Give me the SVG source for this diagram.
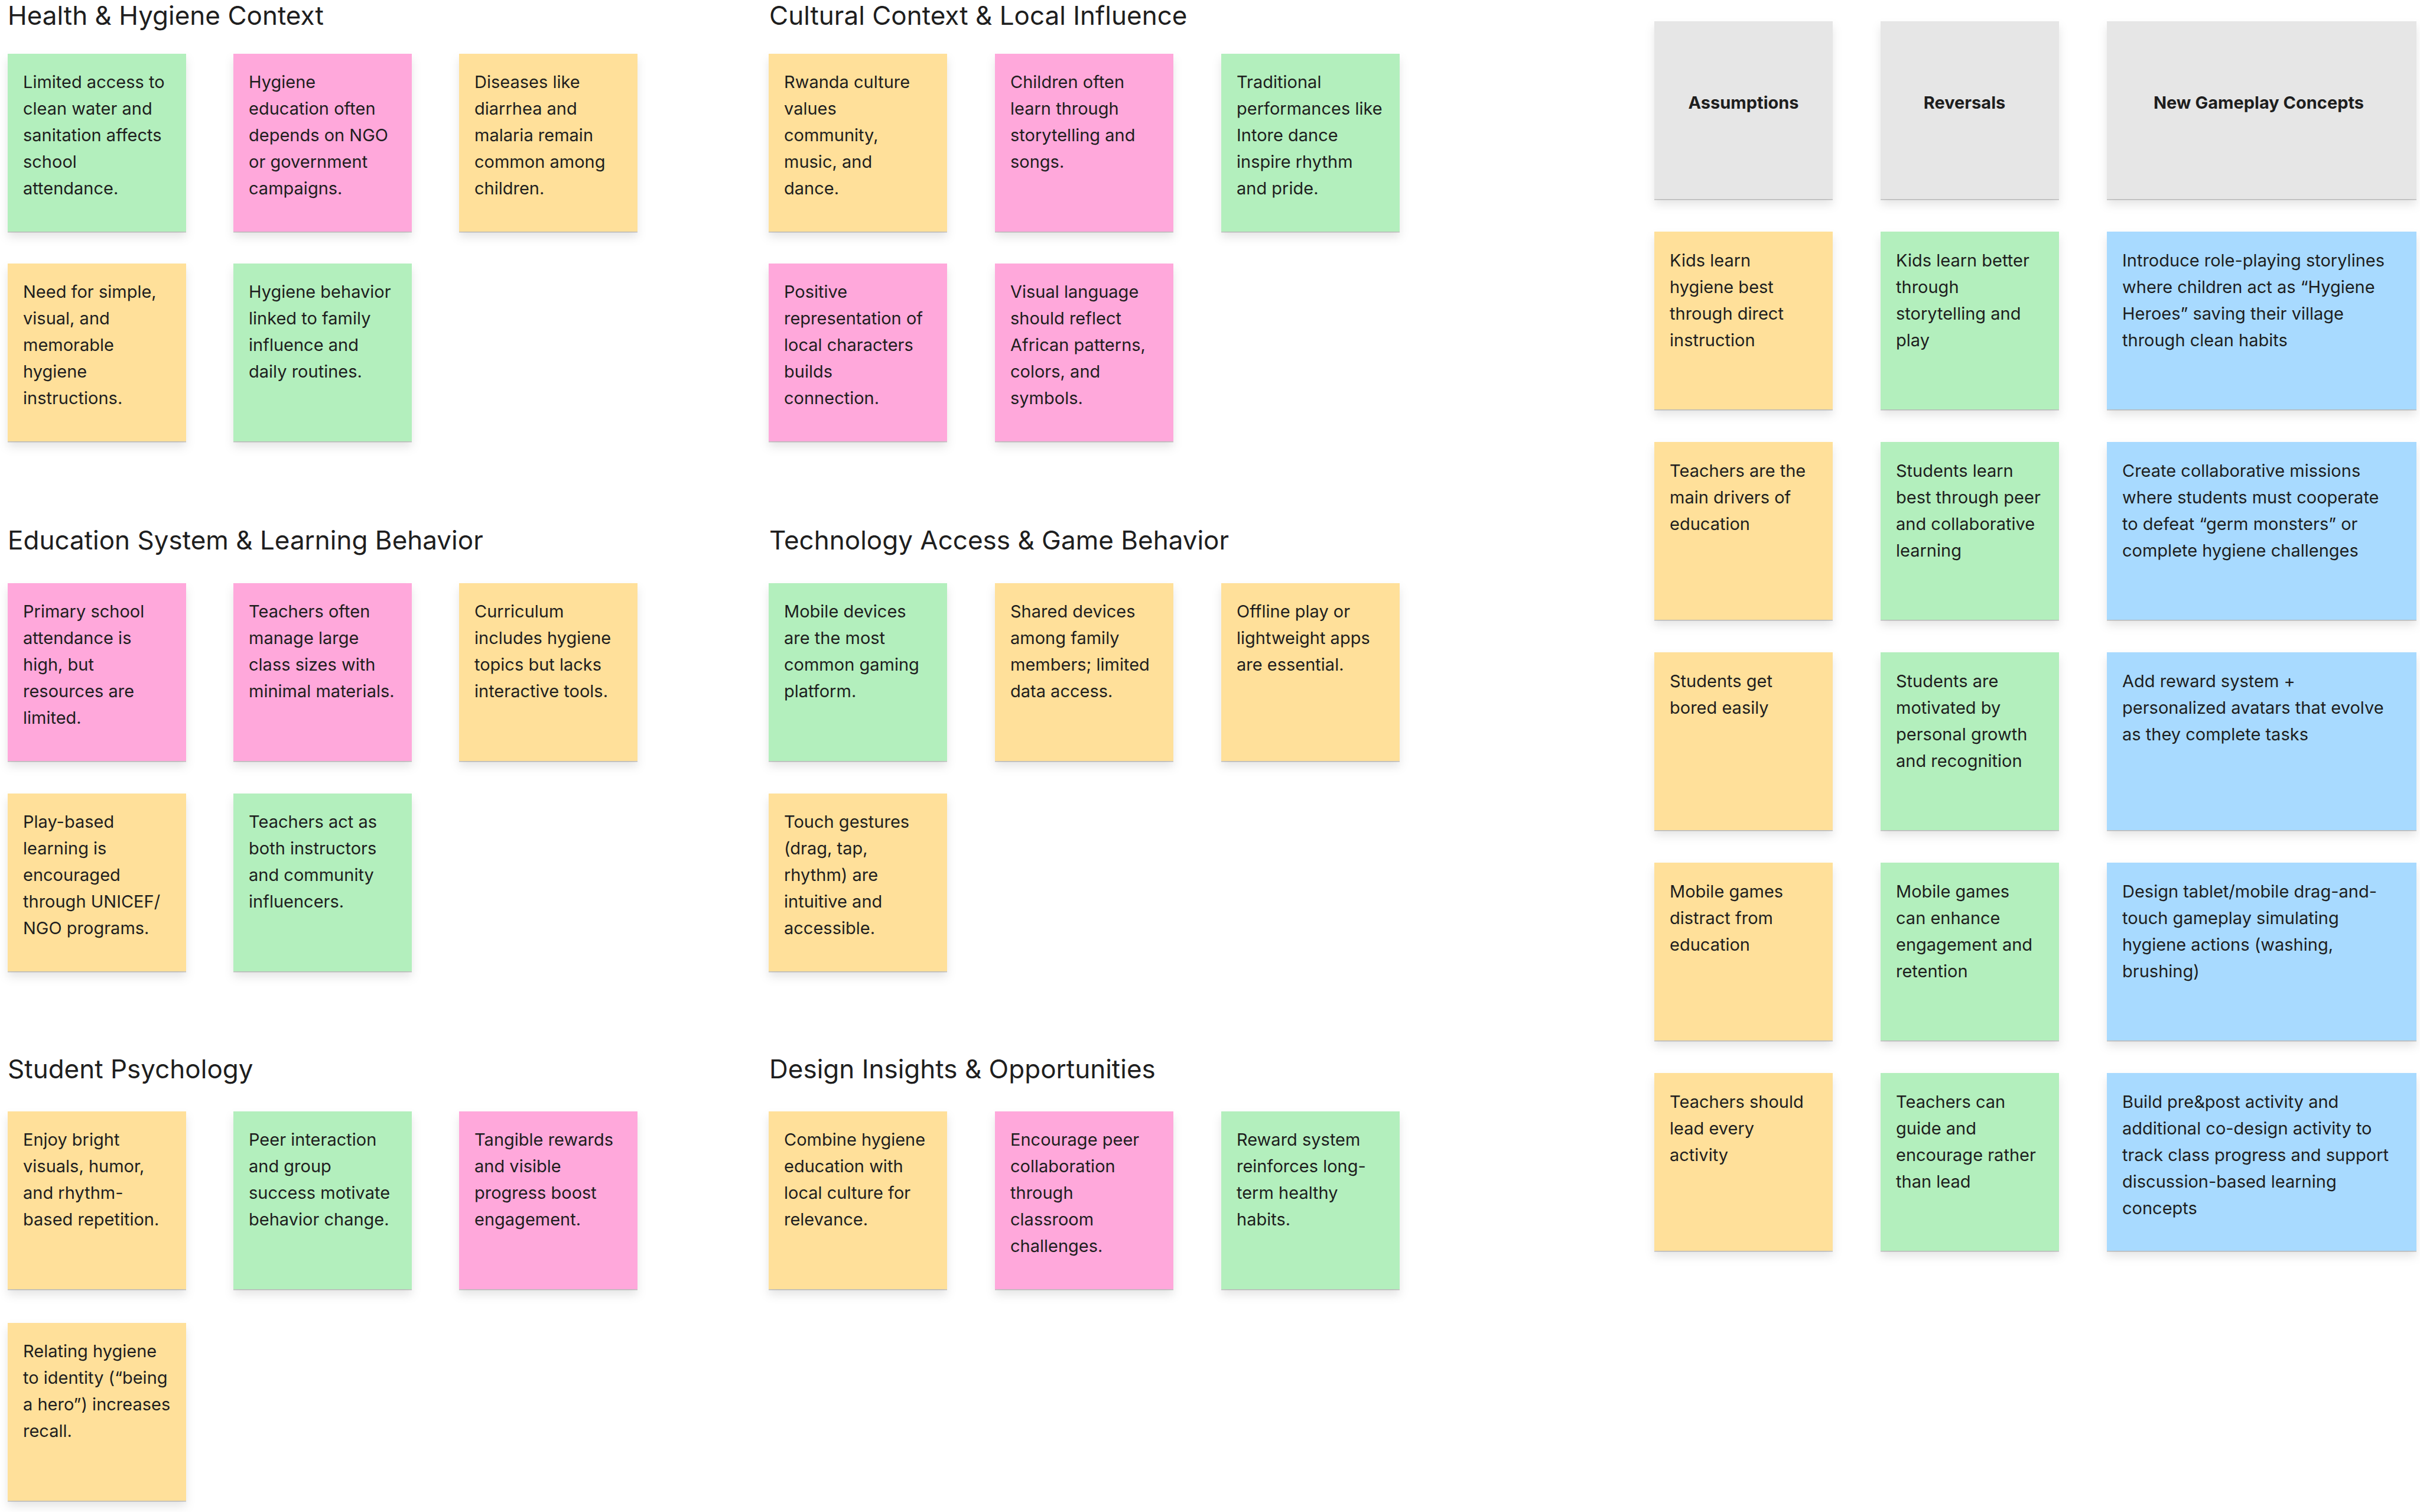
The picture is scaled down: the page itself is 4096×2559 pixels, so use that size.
<svg xmlns="http://www.w3.org/2000/svg" width="4096" height="2559" viewBox="0 0 4096 2559">
<defs>
<filter id="sh" x="-10%" y="-10%" width="120%" height="125%">
<feDropShadow dx="0" dy="1.5" stdDeviation="0.6" flood-color="#000" flood-opacity="0.22"/>
<feDropShadow dx="0" dy="9" stdDeviation="8" flood-color="#000" flood-opacity="0.10"/>
</filter>
<style>
.t{font-family:Inter,"Noto Sans","Liberation Sans",sans-serif;fill:#1e1e1e}
.title{font-size:44px}
.st{font-size:29px}
.hd{font-size:29px;font-weight:700;text-anchor:middle}
.y{fill:#FFE09A}
.g{fill:#B3EFBD}
.p{fill:#FFA8DB}
.b{fill:#A8DAFF}
.gr{fill:#E6E6E6}
.note{filter:url(#sh)}
</style>
</defs>
<rect width="4096" height="2559" fill="#fff"/>

<g id="titles">
<text class="t title" x="13" y="42">Health &amp; Hygiene Context</text>
<text class="t title" x="1302" y="42">Cultural Context &amp; Local Influence</text>
<text class="t title" x="13" y="930">Education System &amp; Learning Behavior</text>
<text class="t title" x="1302" y="930">Technology Access &amp; Game Behavior</text>
<text class="t title" x="13" y="1825">Student Psychology</text>
<text class="t title" x="1302" y="1825">Design Insights &amp; Opportunities</text>
</g>

<!-- Health & Hygiene Context -->
<g id="h1"><rect class="note g" x="13" y="91" width="302" height="301"/><text class="t st" x="39" y="149"><tspan x="39">Limited access to</tspan><tspan x="39" dy="45">clean water and</tspan><tspan x="39" dy="45">sanitation affects</tspan><tspan x="39" dy="45">school</tspan><tspan x="39" dy="45">attendance.</tspan></text></g>
<g id="h2"><rect class="note p" x="395" y="91" width="302" height="301"/><text class="t st" x="421" y="149"><tspan x="421">Hygiene</tspan><tspan x="421" dy="45">education often</tspan><tspan x="421" dy="45">depends on NGO</tspan><tspan x="421" dy="45">or government</tspan><tspan x="421" dy="45">campaigns.</tspan></text></g>
<g id="h3"><rect class="note y" x="777" y="91" width="302" height="301"/><text class="t st" x="803" y="149"><tspan x="803">Diseases like</tspan><tspan x="803" dy="45">diarrhea and</tspan><tspan x="803" dy="45">malaria remain</tspan><tspan x="803" dy="45">common among</tspan><tspan x="803" dy="45">children.</tspan></text></g>
<g id="h4"><rect class="note y" x="13" y="446" width="302" height="301"/><text class="t st" x="39" y="504"><tspan x="39">Need for simple,</tspan><tspan x="39" dy="45">visual, and</tspan><tspan x="39" dy="45">memorable</tspan><tspan x="39" dy="45">hygiene</tspan><tspan x="39" dy="45">instructions.</tspan></text></g>
<g id="h5"><rect class="note g" x="395" y="446" width="302" height="301"/><text class="t st" x="421" y="504"><tspan x="421">Hygiene behavior</tspan><tspan x="421" dy="45">linked to family</tspan><tspan x="421" dy="45">influence and</tspan><tspan x="421" dy="45">daily routines.</tspan></text></g>

<!-- Cultural Context -->
<g id="c1"><rect class="note y" x="1301" y="91" width="302" height="301"/><text class="t st" x="1327" y="149"><tspan x="1327">Rwanda culture</tspan><tspan x="1327" dy="45">values</tspan><tspan x="1327" dy="45">community,</tspan><tspan x="1327" dy="45">music, and</tspan><tspan x="1327" dy="45">dance.</tspan></text></g>
<g id="c2"><rect class="note p" x="1684" y="91" width="302" height="301"/><text class="t st" x="1710" y="149"><tspan x="1710">Children often</tspan><tspan x="1710" dy="45">learn through</tspan><tspan x="1710" dy="45">storytelling and</tspan><tspan x="1710" dy="45">songs.</tspan></text></g>
<g id="c3"><rect class="note g" x="2067" y="91" width="302" height="301"/><text class="t st" x="2093" y="149"><tspan x="2093">Traditional</tspan><tspan x="2093" dy="45">performances like</tspan><tspan x="2093" dy="45">Intore dance</tspan><tspan x="2093" dy="45">inspire rhythm</tspan><tspan x="2093" dy="45">and pride.</tspan></text></g>
<g id="c4"><rect class="note p" x="1301" y="446" width="302" height="301"/><text class="t st" x="1327" y="504"><tspan x="1327">Positive</tspan><tspan x="1327" dy="45">representation of</tspan><tspan x="1327" dy="45">local characters</tspan><tspan x="1327" dy="45">builds</tspan><tspan x="1327" dy="45">connection.</tspan></text></g>
<g id="c5"><rect class="note p" x="1684" y="446" width="302" height="301"/><text class="t st" x="1710" y="504"><tspan x="1710">Visual language</tspan><tspan x="1710" dy="45">should reflect</tspan><tspan x="1710" dy="45">African patterns,</tspan><tspan x="1710" dy="45">colors, and</tspan><tspan x="1710" dy="45">symbols.</tspan></text></g>

<!-- Education System -->
<g id="e1"><rect class="note p" x="13" y="987" width="302" height="301"/><text class="t st" x="39" y="1045"><tspan x="39">Primary school</tspan><tspan x="39" dy="45">attendance is</tspan><tspan x="39" dy="45">high, but</tspan><tspan x="39" dy="45">resources are</tspan><tspan x="39" dy="45">limited.</tspan></text></g>
<g id="e2"><rect class="note p" x="395" y="987" width="302" height="301"/><text class="t st" x="421" y="1045"><tspan x="421">Teachers often</tspan><tspan x="421" dy="45">manage large</tspan><tspan x="421" dy="45">class sizes with</tspan><tspan x="421" dy="45">minimal materials.</tspan></text></g>
<g id="e3"><rect class="note y" x="777" y="987" width="302" height="301"/><text class="t st" x="803" y="1045"><tspan x="803">Curriculum</tspan><tspan x="803" dy="45">includes hygiene</tspan><tspan x="803" dy="45">topics but lacks</tspan><tspan x="803" dy="45">interactive tools.</tspan></text></g>
<g id="e4"><rect class="note y" x="13" y="1343" width="302" height="301"/><text class="t st" x="39" y="1401"><tspan x="39">Play-based</tspan><tspan x="39" dy="45">learning is</tspan><tspan x="39" dy="45">encouraged</tspan><tspan x="39" dy="45">through UNICEF/</tspan><tspan x="39" dy="45">NGO programs.</tspan></text></g>
<g id="e5"><rect class="note g" x="395" y="1343" width="302" height="301"/><text class="t st" x="421" y="1401"><tspan x="421">Teachers act as</tspan><tspan x="421" dy="45">both instructors</tspan><tspan x="421" dy="45">and community</tspan><tspan x="421" dy="45">influencers.</tspan></text></g>

<!-- Technology Access -->
<g id="t1"><rect class="note g" x="1301" y="987" width="302" height="301"/><text class="t st" x="1327" y="1045"><tspan x="1327">Mobile devices</tspan><tspan x="1327" dy="45">are the most</tspan><tspan x="1327" dy="45">common gaming</tspan><tspan x="1327" dy="45">platform.</tspan></text></g>
<g id="t2"><rect class="note y" x="1684" y="987" width="302" height="301"/><text class="t st" x="1710" y="1045"><tspan x="1710">Shared devices</tspan><tspan x="1710" dy="45">among family</tspan><tspan x="1710" dy="45">members; limited</tspan><tspan x="1710" dy="45">data access.</tspan></text></g>
<g id="t3"><rect class="note y" x="2067" y="987" width="302" height="301"/><text class="t st" x="2093" y="1045"><tspan x="2093">Offline play or</tspan><tspan x="2093" dy="45">lightweight apps</tspan><tspan x="2093" dy="45">are essential.</tspan></text></g>
<g id="t4"><rect class="note y" x="1301" y="1343" width="302" height="301"/><text class="t st" x="1327" y="1401"><tspan x="1327">Touch gestures</tspan><tspan x="1327" dy="45">(drag, tap,</tspan><tspan x="1327" dy="45">rhythm) are</tspan><tspan x="1327" dy="45">intuitive and</tspan><tspan x="1327" dy="45">accessible.</tspan></text></g>

<!-- Student Psychology -->
<g id="s1"><rect class="note y" x="13" y="1881" width="302" height="301"/><text class="t st" x="39" y="1939"><tspan x="39">Enjoy bright</tspan><tspan x="39" dy="45">visuals, humor,</tspan><tspan x="39" dy="45">and rhythm-</tspan><tspan x="39" dy="45">based repetition.</tspan></text></g>
<g id="s2"><rect class="note g" x="395" y="1881" width="302" height="301"/><text class="t st" x="421" y="1939"><tspan x="421">Peer interaction</tspan><tspan x="421" dy="45">and group</tspan><tspan x="421" dy="45">success motivate</tspan><tspan x="421" dy="45">behavior change.</tspan></text></g>
<g id="s3"><rect class="note p" x="777" y="1881" width="302" height="301"/><text class="t st" x="803" y="1939"><tspan x="803">Tangible rewards</tspan><tspan x="803" dy="45">and visible</tspan><tspan x="803" dy="45">progress boost</tspan><tspan x="803" dy="45">engagement.</tspan></text></g>
<g id="s4"><rect class="note y" x="13" y="2239" width="302" height="301"/><text class="t st" x="39" y="2297"><tspan x="39">Relating hygiene</tspan><tspan x="39" dy="45">to identity (“being</tspan><tspan x="39" dy="45">a hero”) increases</tspan><tspan x="39" dy="45">recall.</tspan></text></g>

<!-- Design Insights -->
<g id="d1"><rect class="note y" x="1301" y="1881" width="302" height="301"/><text class="t st" x="1327" y="1939"><tspan x="1327">Combine hygiene</tspan><tspan x="1327" dy="45">education with</tspan><tspan x="1327" dy="45">local culture for</tspan><tspan x="1327" dy="45">relevance.</tspan></text></g>
<g id="d2"><rect class="note p" x="1684" y="1881" width="302" height="301"/><text class="t st" x="1710" y="1939"><tspan x="1710">Encourage peer</tspan><tspan x="1710" dy="45">collaboration</tspan><tspan x="1710" dy="45">through</tspan><tspan x="1710" dy="45">classroom</tspan><tspan x="1710" dy="45">challenges.</tspan></text></g>
<g id="d3"><rect class="note g" x="2067" y="1881" width="302" height="301"/><text class="t st" x="2093" y="1939"><tspan x="2093">Reward system</tspan><tspan x="2093" dy="45">reinforces long-</tspan><tspan x="2093" dy="45">term healthy</tspan><tspan x="2093" dy="45">habits.</tspan></text></g>

<!-- Right matrix headers -->
<g id="hdr1"><rect class="note gr" x="2800" y="36" width="302" height="301"/><text class="t hd" x="2951" y="184">Assumptions</text></g>
<g id="hdr2"><rect class="note gr" x="3183" y="36" width="302" height="301"/><text class="t hd" x="3325" y="184">Reversals</text></g>
<g id="hdr3"><rect class="note gr" x="3566" y="36" width="524" height="301"/><text class="t hd" x="3823" y="184">New Gameplay Concepts</text></g>

<!-- Row 1 -->
<g id="a1"><rect class="note y" x="2800" y="392" width="302" height="301"/><text class="t st" x="2826" y="451"><tspan x="2826">Kids learn</tspan><tspan x="2826" dy="45">hygiene best</tspan><tspan x="2826" dy="45">through direct</tspan><tspan x="2826" dy="45">instruction</tspan></text></g>
<g id="r1"><rect class="note g" x="3183" y="392" width="302" height="301"/><text class="t st" x="3209" y="451"><tspan x="3209">Kids learn better</tspan><tspan x="3209" dy="45">through</tspan><tspan x="3209" dy="45">storytelling and</tspan><tspan x="3209" dy="45">play</tspan></text></g>
<g id="n1"><rect class="note b" x="3566" y="392" width="524" height="301"/><text class="t st" x="3592" y="451"><tspan x="3592">Introduce role-playing storylines</tspan><tspan x="3592" dy="45">where children act as “Hygiene</tspan><tspan x="3592" dy="45">Heroes” saving their village</tspan><tspan x="3592" dy="45">through clean habits</tspan></text></g>

<!-- Row 2 -->
<g id="a2"><rect class="note y" x="2800" y="748" width="302" height="301"/><text class="t st" x="2826" y="807"><tspan x="2826">Teachers are the</tspan><tspan x="2826" dy="45">main drivers of</tspan><tspan x="2826" dy="45">education</tspan></text></g>
<g id="r2"><rect class="note g" x="3183" y="748" width="302" height="301"/><text class="t st" x="3209" y="807"><tspan x="3209">Students learn</tspan><tspan x="3209" dy="45">best through peer</tspan><tspan x="3209" dy="45">and collaborative</tspan><tspan x="3209" dy="45">learning</tspan></text></g>
<g id="n2"><rect class="note b" x="3566" y="748" width="524" height="301"/><text class="t st" x="3592" y="807"><tspan x="3592">Create collaborative missions</tspan><tspan x="3592" dy="45">where students must cooperate</tspan><tspan x="3592" dy="45">to defeat “germ monsters” or</tspan><tspan x="3592" dy="45">complete hygiene challenges</tspan></text></g>

<!-- Row 3 -->
<g id="a3"><rect class="note y" x="2800" y="1104" width="302" height="301"/><text class="t st" x="2826" y="1163"><tspan x="2826">Students get</tspan><tspan x="2826" dy="45">bored easily</tspan></text></g>
<g id="r3"><rect class="note g" x="3183" y="1104" width="302" height="301"/><text class="t st" x="3209" y="1163"><tspan x="3209">Students are</tspan><tspan x="3209" dy="45">motivated by</tspan><tspan x="3209" dy="45">personal growth</tspan><tspan x="3209" dy="45">and recognition</tspan></text></g>
<g id="n3"><rect class="note b" x="3566" y="1104" width="524" height="301"/><text class="t st" x="3592" y="1163"><tspan x="3592">Add reward system +</tspan><tspan x="3592" dy="45">personalized avatars that evolve</tspan><tspan x="3592" dy="45">as they complete tasks</tspan></text></g>

<!-- Row 4 -->
<g id="a4"><rect class="note y" x="2800" y="1460" width="302" height="301"/><text class="t st" x="2826" y="1519"><tspan x="2826">Mobile games</tspan><tspan x="2826" dy="45">distract from</tspan><tspan x="2826" dy="45">education</tspan></text></g>
<g id="r4"><rect class="note g" x="3183" y="1460" width="302" height="301"/><text class="t st" x="3209" y="1519"><tspan x="3209">Mobile games</tspan><tspan x="3209" dy="45">can enhance</tspan><tspan x="3209" dy="45">engagement and</tspan><tspan x="3209" dy="45">retention</tspan></text></g>
<g id="n4"><rect class="note b" x="3566" y="1460" width="524" height="301"/><text class="t st" x="3592" y="1519"><tspan x="3592">Design tablet/mobile drag-and-</tspan><tspan x="3592" dy="45">touch gameplay simulating</tspan><tspan x="3592" dy="45">hygiene actions (washing,</tspan><tspan x="3592" dy="45">brushing)</tspan></text></g>

<!-- Row 5 -->
<g id="a5"><rect class="note y" x="2800" y="1816" width="302" height="301"/><text class="t st" x="2826" y="1875"><tspan x="2826">Teachers should</tspan><tspan x="2826" dy="45">lead every</tspan><tspan x="2826" dy="45">activity</tspan></text></g>
<g id="r5"><rect class="note g" x="3183" y="1816" width="302" height="301"/><text class="t st" x="3209" y="1875"><tspan x="3209">Teachers can</tspan><tspan x="3209" dy="45">guide and</tspan><tspan x="3209" dy="45">encourage rather</tspan><tspan x="3209" dy="45">than lead</tspan></text></g>
<g id="n5"><rect class="note b" x="3566" y="1816" width="524" height="301"/><text class="t st" x="3592" y="1875"><tspan x="3592">Build pre&amp;post activity and</tspan><tspan x="3592" dy="45">additional co-design activity to</tspan><tspan x="3592" dy="45">track class progress and support</tspan><tspan x="3592" dy="45">discussion-based learning</tspan><tspan x="3592" dy="45">concepts</tspan></text></g>

<g id="connectors"/>
</svg>
